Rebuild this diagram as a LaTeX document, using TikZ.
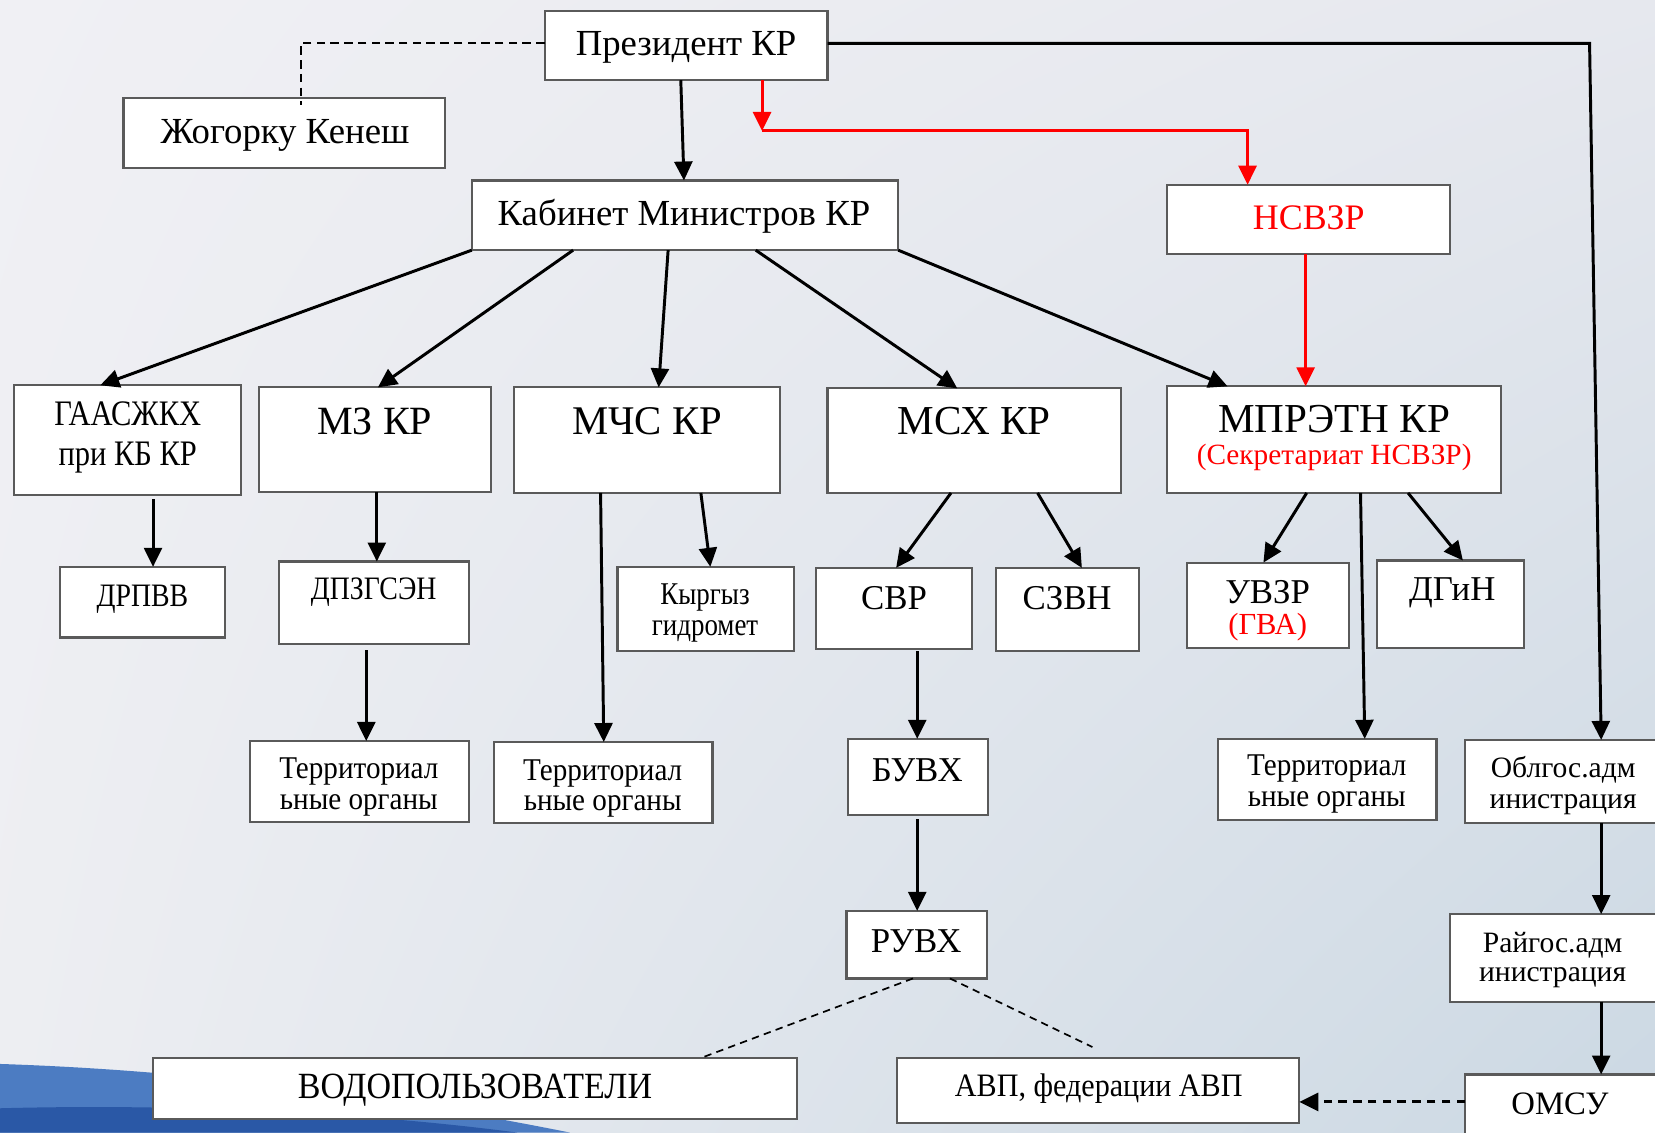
\documentclass[tikz,border=0pt]{standalone}
\usepackage{fontspec}
\setmainfont{Liberation Serif}
\newfontfamily\cnd[FakeStretch=0.85]{Liberation Serif}
\newfontfamily\cndb[FakeStretch=0.92]{Liberation Serif}
\usetikzlibrary{arrows.meta,calc,shadings}
\definecolor{bxline}{HTML}{5A5A5A}
\definecolor{bgA}{HTML}{F0F0F4}
\definecolor{bgB}{HTML}{E6E8EE}
\definecolor{bgC}{HTML}{EDEEF2}
\definecolor{bgD}{HTML}{CBD8E3}
\definecolor{blueA}{HTML}{4C7CC2}
\definecolor{blueB}{HTML}{2A58A6}
\definecolor{redc}{HTML}{FF0000}
\newcommand\fs[2]{\fontsize{#1}{#2}\selectfont}
\newcommand\bx[5]{\node[box,minimum width={(#4-#2)*0.5pt},minimum height={(#5-#3)*0.5pt}] (#1) at ({(#2+#4)/2},{(#3+#5)/2}) {};}
\tikzset{
  box/.style={draw=bxline,fill=white,line width=1pt,inner sep=0pt,outer sep=0pt,rectangle},
  lbl/.style={inner sep=0pt,outer sep=0pt,anchor=base,align=center},
  arr/.style={line width=1.4pt,-{Triangle[length=9pt,width=8.5pt]}},
  rarr/.style={arr,draw=redc},
  dsh/.style={line width=0.8pt,dash pattern=on 3.5pt off 2.5pt},
  darr/.style={line width=1.4pt,dash pattern=on 4pt off 3pt,-{Triangle[length=9pt,width=8.5pt]}}
}
\begin{document}
\begin{tikzpicture}[x=0.5pt,y=-0.5pt]
\useasboundingbox (0,0) rectangle (1568,1073);
% background
\shade[upper left=bgA,upper right=bgB,lower left=bgC,lower right=bgD] (0,0) rectangle (1568,1073);
\fill[blueA] (0,1008) .. controls (120,1012) and (300,1025) .. (540,1073) -- (0,1073) -- cycle;
\fill[blueB] (0,1050) .. controls (150,1046) and (330,1052) .. (490,1073) -- (0,1073) -- cycle;

% boxes
\bx{pres}{516}{10}{784}{76}
\bx{jk}{117}{93}{422}{159}
\bx{kab}{447}{171}{851}{237}
\bx{nsv}{1106}{175}{1374}{241}
\bx{gaas}{13}{365}{228}{469}
\bx{mz}{245}{367}{465}{466}
\bx{mchs}{487}{367}{739}{467}
\bx{msx}{784}{368}{1062}{467}
\bx{mpr}{1106}{366}{1422}{467}
\bx{drp}{57}{537}{213}{604}
\bx{dpz}{264}{532}{444}{610}
\bx{kgm}{585}{537}{752}{617}
\bx{svr}{773}{538}{921}{615}
\bx{szv}{944}{538}{1079}{617}
\bx{uvz}{1125}{533}{1278}{614}
\bx{dgn}{1305}{531}{1444}{614}
\bx{terA}{237}{702}{444}{779}
\bx{terB}{468}{703}{675}{780}
\bx{buv}{803}{700}{936}{772}
\bx{terC}{1154}{700}{1361}{777}
\bx{obl}{1388}{701}{1590}{780}
\bx{ruv}{802}{863}{935}{927}
\bx{ray}{1374}{866}{1590}{949}
\bx{vod}{145}{1002}{755}{1060}
\bx{avp}{850}{1002}{1231}{1064}
\bx{oms}{1388}{1018}{1590}{1100}

% texts
\node[lbl,font=\fs{17.4}{20}] (pres-t) at (650,53) {Президент КР};
\node[lbl,font=\fs{17.4}{20}] (jk-t) at (270,136) {Жогорку Кенеш};
\node[lbl,font=\fs{17.4}{20}] (kab-t) at (648,214) {Кабинет Министров КР};
\node[lbl,font=\fs{17}{20},text=redc] (nsv-t) at (1240,217) {НСВЗР};
\node[lbl,font=\cnd\fs{17}{19}] (gaas-t) at (121,441) {ГААСЖКХ\\при КБ КР};
\node[lbl,font=\fs{19}{22}] (mz-t) at (355,412) {МЗ КР};
\node[lbl,font=\fs{19.3}{22}] (mchs-t) at (613,412) {МЧС КР};
\node[lbl,font=\fs{19.5}{22}] (msx-t) at (923,412) {МСХ КР};
\node[lbl,font=\fs{19.5}{15}] (mpr-t) at (1264,440) {МПРЭТН КР\\\textcolor{redc}{\fs{13.9}{15}(Секретариат НСВЗР)}};
\node[lbl,font=\cnd\fs{15.5}{18}] (drp-t) at (135,575) {ДРПВВ};
\node[lbl,font=\cnd\fs{15.5}{18}] (dpz-t) at (354,568) {ДПЗГСЭН};
\node[lbl,font=\cnd\fs{15}{14.5}] (kgm-t) at (668,602) {Кыргыз\\гидромет};
\node[lbl,font=\fs{16.5}{19}] (svr-t) at (847,577) {СВР};
\node[lbl,font=\fs{16.5}{19}] (szv-t) at (1011,577) {СЗВН};
\node[lbl,font=\fs{16.5}{14.5}] (uvz-t) at (1201,601) {УВЗР\\\textcolor{redc}{\fs{14.5}{14.5}(ГВА)}};
\node[lbl,font=\fs{16.5}{19}] (dgn-t) at (1376,569) {ДГиН};
\node[lbl,font=\cndb\fs{15}{14.5}] (terA-t) at (340,767) {Территориал\\ьные органы};
\node[lbl,font=\cndb\fs{15}{14.5}] (terB-t) at (571,768) {Территориал\\ьные органы};
\node[lbl,font=\cndb\fs{15}{14.5}] (terC-t) at (1257,764) {Территориал\\ьные органы};
\node[lbl,font=\fs{16.5}{19}] (buv-t) at (869,740) {БУВХ};
\node[lbl,font=\fs{14}{14.5}] (obl-t) at (1481,766) {Облгос.адм\\инистрация};
\node[lbl,font=\fs{16.5}{19}] (ruv-t) at (868,902) {РУВХ};
\node[lbl,font=\fs{14}{14}] (ray-t) at (1471,930) {Райгос.адм\\инистрация};
\node[lbl,font=\cndb\fs{17.5}{19}] (vod-t) at (450,1041) {ВОДОПОЛЬЗОВАТЕЛИ};
\node[lbl,font=\cndb\fs{15.5}{18}] (avp-t) at (1041,1039) {АВП, федерации АВП};
\node[lbl,font=\fs{15.5}{18}] (oms-t) at (1478,1056) {ОМСУ};

% coordinates
\coordinate (r1) at (722,124);
\coordinate (c1) at (1506,41);
\coordinate (d1) at (1035,992);

% connectors
\draw[arr] (pres.south -| 645,0) -- (kab.north -| 648,0);
\draw[line width=1pt,dash pattern=on 4pt off 2.5pt] (pres.west |- 0,41) -- (285,41) -- ([yshift=-3pt]jk.north -| 285,0);
\draw[rarr] (pres.south -| 722,0) -- (r1);
\draw[rarr] (r1) -| (nsv.north -| 1182,0);
\draw[arr] (pres.east |- 0,41) -- (c1) -- (obl.north -| 1517,0);
\draw[rarr] (nsv.south -| 1237,0) -- (mpr.north -| 1237,0);

\draw[arr] (kab.south west) -- (gaas.north -| 95,0);
\draw[arr] (kab.south -| 543,0) -- (mz.north -| 358,0);
\draw[arr] (kab.south -| 633,0) -- (mchs.north -| 624,0);
\draw[arr] (kab.south -| 716,0) -- (msx.north -| 907,0);
\draw[arr] (kab.south east) -- (mpr.north -| 1163,0);

\draw[arr] ([yshift=-2pt]gaas.south -| 145,0) -- (drp.north -| 145,0);
\draw[arr] (mz.south -| 357,0) -- (dpz.north -| 357,0);
\draw[arr] ([yshift=-3pt]dpz.south -| 347,0) -- (terA.north -| 347,0);
\draw[arr] (mchs.south -| 569,0) -- (terB.north -| 572,0);
\draw[arr] (mchs.south -| 664,0) -- (kgm.north -| 673,0);
\draw[arr] (msx.south -| 901,0) -- (svr.north -| 849,0);
\draw[arr] (msx.south -| 983,0) -- (szv.north -| 1025,0);
\draw[arr] ([yshift=-1pt]svr.south -| 869,0) -- (buv.north -| 869,0);
\draw[arr] ([yshift=-2pt]buv.south -| 869,0) -- (ruv.north -| 869,0);
\draw[dsh] (ruv.south -| 865,0) -- (vod.north -| 665,0);
\draw[dsh] (ruv.south -| 900,0) -- (d1);
\draw[arr] (mpr.south -| 1238,0) -- (uvz.north -| 1197,0);
\draw[arr] (mpr.south -| 1289,0) -- (terC.north -| 1293,0);
\draw[arr] (mpr.south -| 1334,0) -- (dgn.north -| 1386,0);
\draw[arr] (obl.south -| 1517,0) -- (ray.north -| 1517,0);
\draw[arr] (ray.south -| 1517,0) -- (oms.north -| 1517,0);
\draw[darr] (oms.west |- 0,1044) -- (avp.east |- 0,1044);
\end{tikzpicture}
\end{document}
